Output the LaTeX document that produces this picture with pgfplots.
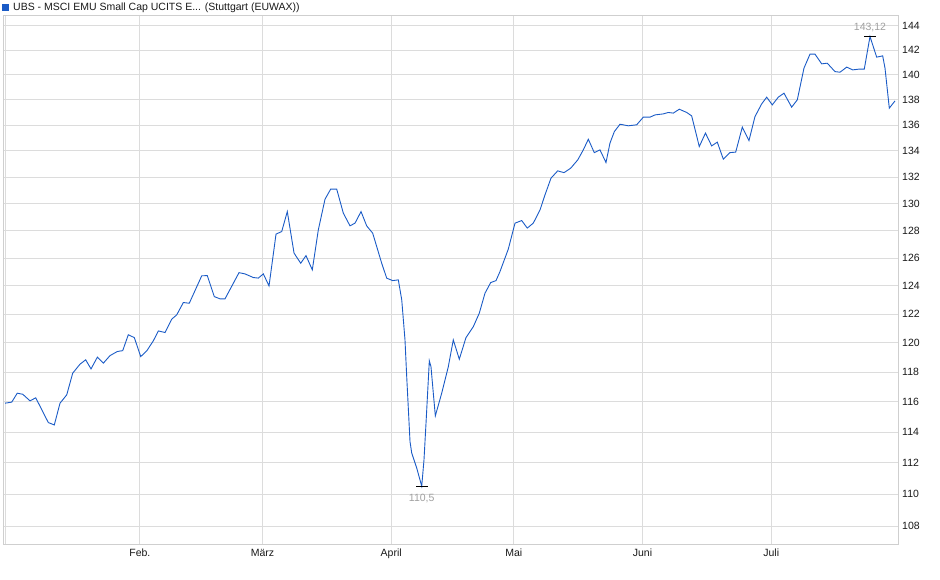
\documentclass[border=0pt]{standalone}
\usepackage{fontspec}
\setmainfont{Liberation Sans}
\usepackage{pgfplots}
\pgfplotsset{compat=1.18}
\usepackage{pgfplotstable}

\definecolor{lineblue}{HTML}{1A5BC6}
\definecolor{gridgray}{HTML}{DCDCDC}
\definecolor{framegray}{HTML}{CFCFCF}
\definecolor{notegray}{HTML}{A0A0A0}

% trading day index (0 = 2. Jan.), price
\pgfplotstableread{
x y
0.00 115.90
1.09 115.97
2.00 116.57
2.89 116.50
4.08 116.06
5.01 116.26
7.06 114.62
8.04 114.46
8.97 115.90
10.07 116.46
11.04 117.92
12.23 118.53
13.16 118.83
14.03 118.21
15.06 119.01
16.04 118.60
17.13 119.12
18.32 119.40
19.20 119.46
20.11 120.55
21.09 120.36
22.14 119.05
23.12 119.44
24.19 120.13
25.01 120.82
26.10 120.71
27.19 121.64
28.01 121.94
29.09 122.81
30.06 122.76
32.09 124.71
33.00 124.73
34.14 123.23
35.07 123.07
35.89 123.07
38.17 124.94
39.15 124.85
40.51 124.59
41.32 124.55
42.14 124.85
43.07 123.99
44.21 127.74
45.14 127.93
46.05 129.41
47.15 126.35
48.24 125.62
49.10 126.17
50.13 125.14
51.11 128.05
52.20 130.33
53.13 131.09
54.11 131.09
55.19 129.29
56.28 128.35
57.10 128.55
58.08 129.41
59.00 128.35
59.98 127.81
61.45 125.62
62.27 124.54
63.25 124.37
64.16 124.42
64.72 123.00
65.25 120.20
65.53 117.69
66.07 113.37
66.35 112.62
67.17 111.65
67.98 110.50
68.35 112.18
68.68 114.58
69.22 118.76
69.49 118.37
69.87 116.57
70.20 115.06
71.24 116.57
72.32 118.37
73.13 120.20
74.11 118.87
75.20 120.36
76.40 121.12
77.37 122.06
78.30 123.47
79.23 124.23
80.10 124.37
80.75 125.02
82.10 126.64
83.20 128.55
84.29 128.74
85.20 128.18
86.18 128.55
87.28 129.53
88.09 130.66
89.07 131.92
90.16 132.47
91.19 132.34
92.28 132.68
93.43 133.31
94.34 134.08
95.16 134.91
96.13 133.87
97.06 134.08
98.04 133.11
98.69 134.60
99.40 135.50
100.33 136.08
101.68 135.95
103.05 136.03
104.13 136.63
105.22 136.63
106.04 136.81
107.39 136.89
108.20 137.00
109.02 136.95
110.00 137.26
111.21 137.00
112.02 136.73
113.26 134.34
114.27 135.38
115.28 134.39
116.20 134.68
117.18 133.37
118.27 133.87
119.20 133.91
120.28 135.85
121.37 134.80
122.35 136.68
123.44 137.68
124.26 138.21
125.17 137.60
126.15 138.21
127.08 138.53
128.33 137.42
129.25 138.00
130.34 140.54
131.32 141.67
132.14 141.67
133.23 140.89
134.14 140.94
135.40 140.26
136.22 140.21
137.31 140.62
138.29 140.40
139.36 140.46
140.18 140.46
141.11 143.12
142.20 141.43
143.18 141.54
143.56 140.54
144.26 137.34
145.19 137.92
}\kurs

\begin{document}
\begin{tikzpicture}
\path[use as bounding box] (-3pt,-34pt) rectangle (937pt,545pt);
\begin{axis}[
  scale only axis,
  width=895pt, height=529pt,
  ymode=log,
  xmin=-0.33, xmax=145.68,
  ymin=106.83, ymax=144.83,
  xtick={0,22,42,63,83,104,125},
  xticklabels={,Feb.,März,April,Mai,Juni,Juli},
  ytick={108,110,112,114,116,118,120,122,124,126,128,130,132,134,136,138,140,142,144},
  yticklabels={108,110,112,114,116,118,120,122,124,126,128,130,132,134,136,138,140,142,144},
  yticklabel pos=right,
  minor tick num=0,
  major tick length=0pt,
  xmajorgrids, ymajorgrids,
  major grid style={gridgray, line width=0.8pt},
  axis line style={framegray, line width=0.8pt},
  tick label style={font=\fontsize{10.5}{12}\selectfont, text=black!90},
  xticklabel style={anchor=north, inner sep=0pt, yshift=-4pt},
  yticklabel style={anchor=west, inner sep=0pt, xshift=4pt},
  title={\textcolor{lineblue}{\rule{7pt}{7pt}}\hspace{4pt}UBS - MSCI EMU Small Cap UCITS E... (Stuttgart (EUWAX))},
  title style={at={(0,1)}, anchor=south west, inner sep=0pt, xshift=-1pt, yshift=-3.4pt,
    font=\fontsize{10.5}{12}\selectfont, text=black!90},
  clip=false,
]
\addplot[lineblue, line width=0.9pt, mark=none] table[x=x, y=y] {\kurs};
\addplot[only marks, mark=-, mark size=6pt, mark options={black, line width=1pt},
  nodes near coords={143,12},
  every node near coord/.append style={anchor=south, inner sep=0pt, yshift=4pt,
    text=notegray, font=\fontsize{10.5}{12}\selectfont}]
  coordinates {(141.11,143.12)};
\addplot[only marks, mark=-, mark size=6pt, mark options={black, line width=1pt},
  nodes near coords={110,5},
  every node near coord/.append style={anchor=north, inner sep=0pt, yshift=-7pt,
    text=notegray, font=\fontsize{10.5}{12}\selectfont}]
  coordinates {(67.98,110.5)};
\end{axis}
\end{tikzpicture}
\end{document}
